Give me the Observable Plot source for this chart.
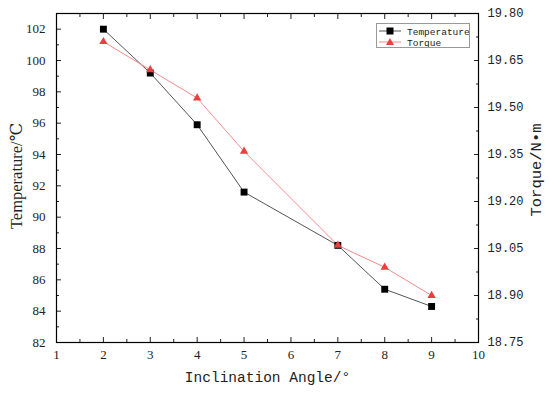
<!DOCTYPE html>
<html><head><meta charset="utf-8">
<script src="https://cdn.jsdelivr.net/npm/d3@7"></script>
<script src="https://cdn.jsdelivr.net/npm/@observablehq/plot@0.6"></script>
<style>
body{margin:0;background:#fff}
#wrap{position:relative;width:550px;height:394px}
#legend{position:absolute;left:376px;top:23px;width:92px;height:23px;border:1px solid #999;background:#fff}
</style>
</head><body><div id="wrap"><div id="legend"></div></div>
<script>
// ---- data ----
const angles = [2, 3, 4, 5, 7, 8, 9];
const temperature = [102.0, 99.2, 95.9, 91.6, 88.2, 85.4, 84.3];
const torque = [19.71, 19.62, 19.53, 19.36, 19.06, 18.99, 18.90];
const seriesNames = ["Temperature", "Torque"];
const xTicks = [1, 2, 3, 4, 5, 6, 7, 8, 9, 10];
const tempTicks = [82, 84, 86, 88, 90, 92, 94, 96, 98, 100, 102];
const torqueTicks = [18.75, 18.90, 19.05, 19.20, 19.35, 19.50, 19.65, 19.80];
const xDomain = [1, 10];
const tempDomain = [82, 103];
const torqueDomain = [18.75, 19.80];

// ---- styles ----
const SERIF = "Liberation Serif, Times New Roman, DejaVu Serif, serif";
const MONO = "Liberation Mono, Courier New, DejaVu Sans Mono, monospace";
const tempLine = "#555555", tempMarker = "#000000";
const torqueLine = "#f28c8c", torqueMarker = "#e8403f";

const k = (tempDomain[1] - tempDomain[0]) / (torqueDomain[1] - torqueDomain[0]);
const toLeft = t => tempDomain[0] + (t - torqueDomain[0]) * k;
const fromLeft = v => torqueDomain[0] + (v - tempDomain[0]) / k;

const data = angles.map((a, i) => ({angle: a, temp: temperature[i], torque: toLeft(torque[i])}));
const mid = arr => arr.slice(1).map((v, i) => (v + arr[i]) / 2);
const xMinor = mid(xTicks);
const tempMinor = mid(tempTicks);
const torqueMinor = mid(torqueTicks).map(toLeft);
const blank = () => "";

const chart = Plot.plot({
  width: 550, height: 394,
  marginLeft: 56, marginRight: 72, marginTop: 13, marginBottom: 52,
  style: {fontFamily: SERIF, fontSize: "13px", color: "#222", background: "#fff"},
  x: {domain: xDomain},
  y: {domain: tempDomain},
  marks: [
    Plot.axisX(xTicks, {anchor: "bottom", tickSize: -5, tickPadding: 12, label: null, fontSize: 13, fontFamily: SERIF}),
    Plot.axisX(xMinor, {anchor: "bottom", tickSize: -3, tickFormat: blank, label: null}),
    Plot.axisX(xTicks, {anchor: "top", tickSize: -5, tickFormat: blank, label: null}),
    Plot.axisX(xMinor, {anchor: "top", tickSize: -3, tickFormat: blank, label: null}),
    Plot.axisY(tempTicks, {anchor: "left", tickSize: -5, tickPadding: 16, label: null, fontSize: 13, fontFamily: SERIF}),
    Plot.axisY(tempMinor, {anchor: "left", tickSize: -3, tickFormat: blank, label: null}),
    Plot.axisY(torqueTicks.map(toLeft), {anchor: "right", tickSize: -5, tickPadding: 14, label: null,
      tickFormat: d => fromLeft(d).toFixed(2), fontFamily: MONO, fontSize: 12}),
    Plot.axisY(torqueMinor, {anchor: "right", tickSize: -3, tickFormat: blank, label: null}),
    Plot.frame({stroke: "#000", strokeWidth: 1.2}),
    Plot.line(data, {x: "angle", y: "temp", stroke: tempLine, strokeWidth: 1}),
    Plot.line(data, {x: "angle", y: "torque", stroke: torqueLine, strokeWidth: 1}),
    Plot.dot(data, {x: "angle", y: "temp", symbol: "square", r: 3.9, fill: tempMarker, stroke: "none"}),
    Plot.dot(data, {x: "angle", y: "torque", symbol: "triangle", r: 3.1, fill: torqueMarker, stroke: "none"}),
    Plot.text(["Inclination Angle/°"], {frameAnchor: "bottom", dy: 39, fontFamily: MONO, fontSize: 14.5, fill: "#222"}),
    Plot.text(["Temperature/℃"], {frameAnchor: "left", textAnchor: "middle", rotate: -90, dx: -40, dy: -2, fontFamily: SERIF, fontSize: 16.5, fill: "#222"}),
    Plot.text(["Torque/N•m"], {frameAnchor: "right", textAnchor: "middle", rotate: -90, dx: 58, dy: -8, fontFamily: MONO, fontSize: 15.5, fill: "#222"})
  ]
});
document.getElementById("wrap").prepend(chart);

// legend
const lg = `<svg width="92" height="23" style="display:block;font-family:${MONO};font-size:9.5px">
 <line x1="2" x2="24" y1="7" y2="7" stroke="${tempLine}" stroke-width="1"/>
 <rect x="9.5" y="3.5" width="7" height="7" fill="${tempMarker}"/>
 <text x="30" y="10.5" fill="#222">${seriesNames[0]}</text>
 <line x1="2" x2="24" y1="18" y2="18" stroke="${torqueLine}" stroke-width="1"/>
 <path d="M13,14 L17,21 L9,21 Z" fill="${torqueMarker}"/>
 <text x="30" y="21.5" fill="#222">${seriesNames[1]}</text>
</svg>`;
document.getElementById("legend").innerHTML = lg;
</script>
</body></html>
